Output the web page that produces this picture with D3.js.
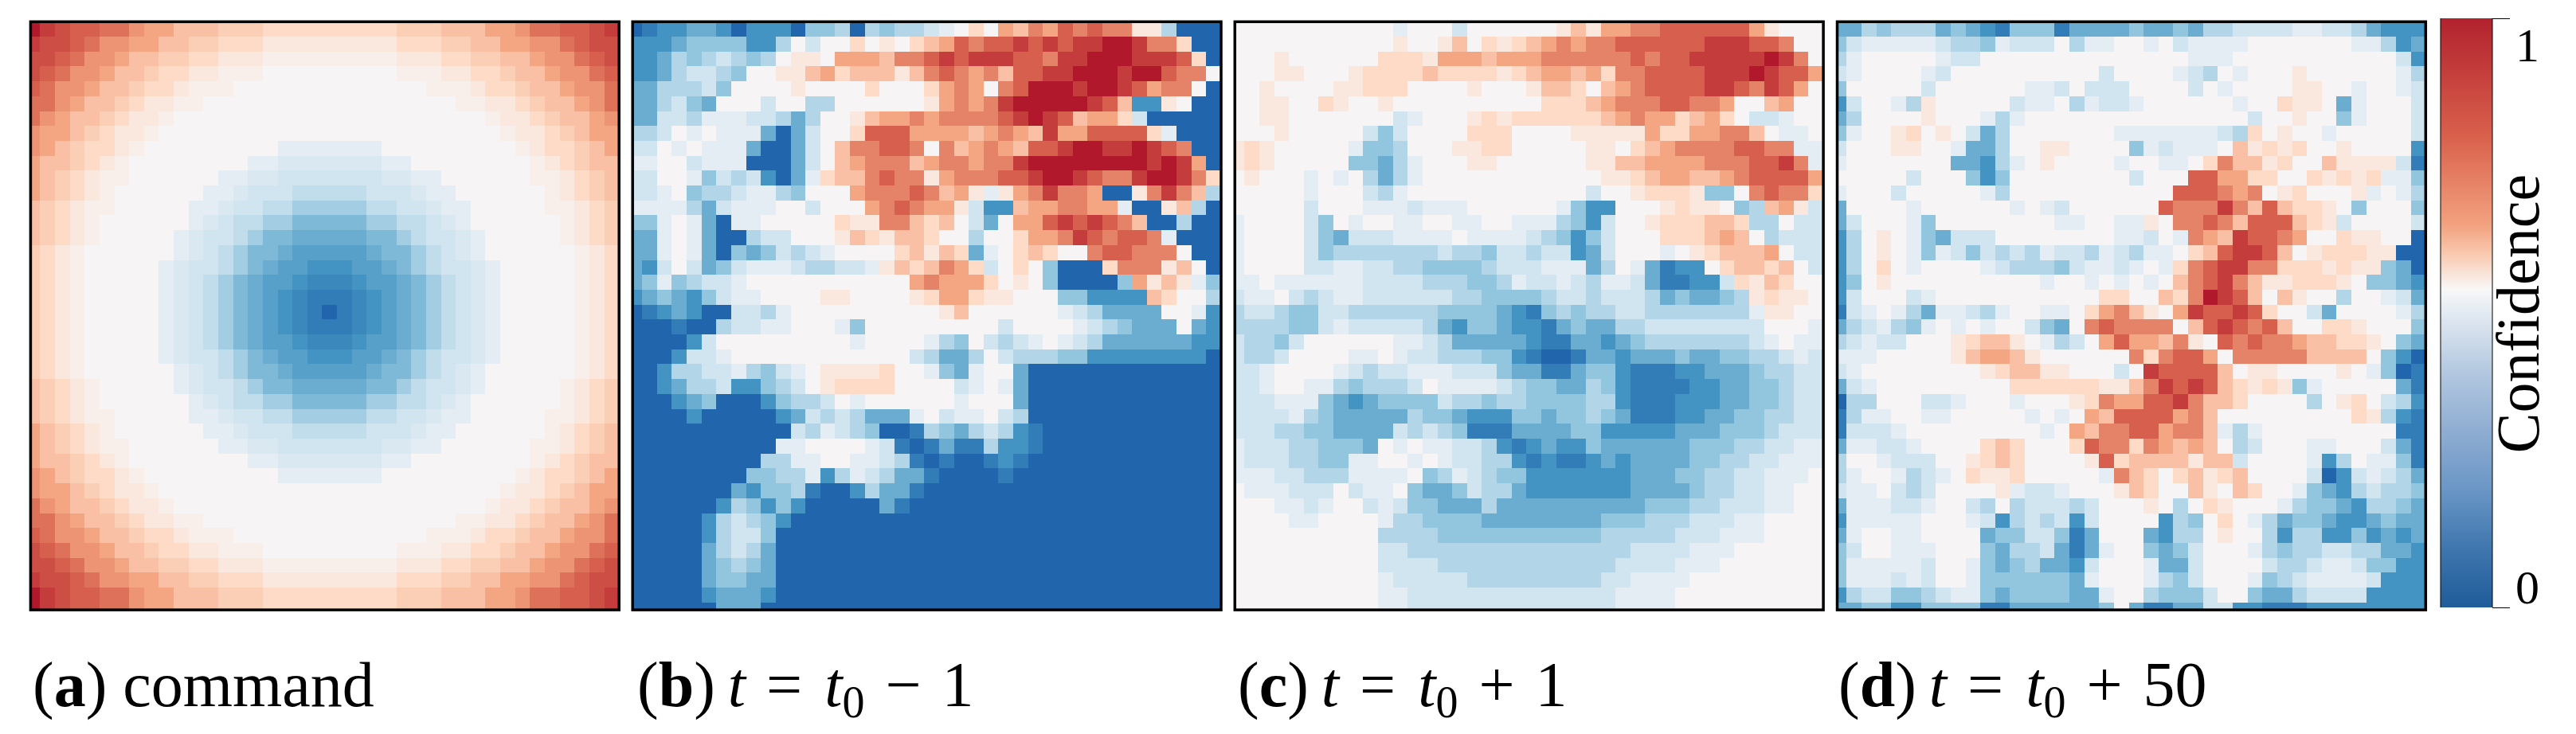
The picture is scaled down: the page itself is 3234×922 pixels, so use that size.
<!DOCTYPE html>
<head>
  <meta charset="utf-8">
  <script src="https://d3js.org/d3.v7.min.js"></script>
  <style>
    body { margin:0; background:#fff; }
    text { font-family:"Liberation Serif",serif; fill:#000; }
  </style>
</head>

<body>
  <script>
    // one string per heatmap row, 40 cells. command is in 1/32nds (base 33), the others in 1/16ths (base 17)
    var commandRows = [
      "wutssrrpoommmlllkkkk k kkkklllmmmooprrsstu",
      "uttsrppoommllkkkiiii i iiiikkkllmmoopprstt",
      "ttsrppommllkkiiihhhh h hhhhiiikkllmmopprst",
      "tsrppommlkkiihhhgggg g gggghhhiikklmmopprs",
      "srppommlkkihhhgggggg g gggggghhhikklmmoppr",
      "rrpommlkiihhgggggggg g gggggggghhiiklmmopr",
      "rpommlkiihgggggggggg g gggggggggghiiklmmop",
      "poomlkiihggggggggggg g ggggggggggghiiklmoo",
      "pomlkkihgggggggggeee e eeeggggggggghikklmo",
      "ommlkihggggggggeeddd d dddeegggggggghiklmm",
      "omlkihhggggggeeddccc c cccddeegggggghhiklm",
      "omlkihggggggeedcccbb b bbcccdeegggggghiklm",
      "mlkihhgggggeedccbb99 9 99bbccdeeggggghhikl",
      "mlkihggggggedcbb9977 7 7799bbcdegggggghikl",
      "mlkihgggggedccb97766 6 66779bccdeggggghikl",
      "lkihggggggedcb977655 5 556779bcdegggggghik",
      "lkihgggggedccb976554 4 455679bccdeggggghik",
      "lkihgggggedcb9765543 3 3455679bcdeggggghik",
      "lkihgggggedcb9765432 2 2345679bcdeggggghik",
      "lkihgggggedcb9765432 0 2345679bcdeggggghik",
      "lkihgggggedcb9765432 2 2345679bcdeggggghik",
      "lkihgggggedcb9765543 3 3455679bcdeggggghik",
      "lkihgggggedccb976554 4 455679bccdeggggghik",
      "lkihggggggedcb977655 5 556779bcdegggggghik",
      "mlkihgggggedccb97766 6 66779bccdeggggghikl",
      "mlkihggggggedcbb9977 7 7799bbcdegggggghikl",
      "mlkihhgggggeedccbb99 9 99bbccdeeggggghhikl",
      "omlkihggggggeedcccbb b bbcccdeegggggghiklm",
      "omlkihhggggggeeddccc c cccddeegggggghhiklm",
      "ommlkihggggggggeeddd d dddeegggggggghiklmm",
      "pomlkkihgggggggggeee e eeeggggggggghikklmo",
      "poomlkiihggggggggggg g ggggggggggghiiklmoo",
      "rpommlkiihgggggggggg g gggggggggghiiklmmop",
      "rrpommlkiihhgggggggg g gggggggghhiiklmmopr",
      "srppommlkkihhhgggggg g gggggghhhikklmmoppr",
      "tsrppommlkkiihhhgggg g gggghhhiikklmmopprs",
      "ttsrppommllkkiiihhhh h hhhhiiikkllmmopprst",
      "uttsrppoommllkkkiiii i iiiikkkllmmoopprstt",
      "wutssrrpoommmlllkkkk k kkkklllmmmooprrsstu",
      "wutssrrpoommmlllkkkk k kkkklllmmmooprrsstu"
    ];
    var beforeRows = [
      "0122332022 2044505455 678a8cbdce dedd995000",
      "2223444422 58688a898a bcedeefefe ffggfdda00",
      "2235456545 8998cccbdd efefffeedf fgggfffea0",
      "2235665488 99bcabbb9b dedcdbeeff gggfggedd8",
      "3355564888 898888a888 acdc8deggg fggfecdd80",
      "3356438886 8855888888 9cdcdfgggg gfeb229800",
      "3366577766 535889bccd cddddefgfe bcca600000",
      "5568787773 03688aeeec cccbcdcbfc ceeeea7000",
      "6687877730 0368bddeed 8dbcdcbeef ggffgfed00",
      "7788677700 0368bcdddb cddcddfggg gggggfgfc0",
      "6688746562 037abbdedd 9cdddeefgg feddfggfda",
      "6678455677 54888cddde dbc979cdfd dc009dfdb5",
      "7777536777 886888cded cc9622bccd dcc7009b50",
      "4478730778 8888a99ddb ab8638ccef efedb00500",
      "3378730056 68889ba9bb a88588accd fedeed7000",
      "3378730434 65678888ab 9ba378aba8 8deeddd800",
      "3268634677 76556679ba bdca68a840 00addd9b80",
      "3474566788 888888888c dccca89840 0004c9b974",
      "2343246778 8889988889 acca998884 42222ba885",
      "0123200665 7888888888 89b8888887 6533338872",
      "0001005667 7888748888 8888868888 7654333832",
      "0000268888 8888878888 7548656787 6533333322",
      "0002667888 8888888886 5335865554 4222222220",
      "0025566754 6789999a88 7437883000 0000000000",
      "0023556224 5689aaaa88 8867873000 0000000000",
      "0002340002 4556878888 8878883000 0000000000",
      "0000200000 2365653337 8677865000 0000000000",
      "0000000000 0657654001 5435652100 0000000000",
      "0000000000 7788887610 1311522100 0000000000",
      "0000000005 5778877651 0100121000 0000000000",
      "0000000044 5572576533 1000010000 0000000000",
      "0000000324 4510025331 0000000000 0000000000",
      "0000002542 4200000310 0000000000 0000000000",
      "0000025654 2000000000 0000000000 0000000000",
      "0000025664 0000000000 0000000000 0000000000",
      "0000035653 0000000000 0000000000 0000000000",
      "0000034543 0000000000 0000000000 0000000000",
      "0000034433 0000000000 0000000000 0000000000",
      "0000023332 0000000000 0000000000 0000000000",
      "0000003330 0000000000 0000000000 0000000000"
    ];
    var afterRows = [
      "8888888888 8788868888 889b9ccdde eeeeec9888",
      "8888888888 89889b8a9a bcdcddeeee eefffeed88",
      "8889888888 aaa9cccbcc cddddddede efffffgfd8",
      "888998889a aaabaaaa9a bccbcaddee eefffgfeec",
      "889888899a aa88889888 9bba8bcdee eeffedfec8",
      "889988a988 9888888888 8aaabcddde eddc88bc88",
      "8899888888 8678889a9a aaaaabcdcc abca866788",
      "8889888886 468888aaa8 88899999ca accddb8778",
      "9a98888874 4588899aa8 8888998abc ddddeedd77",
      "9a98888844 3578889988 888899bbcc ccdddeefd7",
      "8988878785 3578888888 8888899abc cbbcdeeeec",
      "8888878886 5788888888 88886889aa a9448dedda",
      "8888868887 7767778888 8874228889 a99845bc96",
      "7888864878 8778877887 775426889a aabba55866",
      "7888864366 6777787777 654246888a aabcb85666",
      "7888864555 5555655466 5662368887 89abbbc866",
      "7888866776 6554444566 6777358731 228abbab86",
      "7787777776 6665554457 6676577631 1226a9ba88",
      "6778656776 6666655444 4566566653 433459a998",
      "5665446655 5555444432 1454556655 5555579988",
      "5555446766 6665324432 2134335566 6666668887",
      "6554688888 8776533333 2113323455 5555567877",
      "6556888877 8766555442 1001332333 4334455676",
      "6678888765 6677766643 3113442111 2233345566",
      "6678877545 5568777765 4433542111 1223344566",
      "6667774323 4444655455 4444552111 2223344566",
      "6666754333 3354432224 4344543111 2233445566",
      "6665544333 3656541113 3334422222 3334445666",
      "7666554443 8787766521 2322433333 3444556677",
      "7666554477 8878766552 1211232333 3445566777",
      "7776655577 7784576544 2222222333 4455667778",
      "8777666867 7843346553 2222222333 3455667788",
      "8887767886 7644333533 3333333344 4556667788",
      "8888778888 7554444333 3333344455 5666778888",
      "8888888888 5555444444 4444455555 6667778888",
      "8888888888 6655555555 5555555666 6777888888",
      "8888888888 6666555555 5555556666 7778888888",
      "8888888888 7666665555 5555566777 7888888888",
      "8888888888 7766666666 6666667777 8888888888",
      "8888888888 7766666666 6666667777 8888888888"
    ];
    var laterRows = [
      "3354555343 2144413333 4334355666 6776653222",
      "4677777655 4766685778 8786777788 8888877523",
      "5788888766 8888888888 8888777888 8888888862",
      "6788887688 8888888868 8887658788 8988888875",
      "4888886888 8887768666 8888687888 8998878876",
      "2688759888 8867785766 7888888788 a998378886",
      "3588889888 7578888888 8888888868 8988478886",
      "47889a8986 3588888887 77777765a8 9887888886",
      "6888998873 3588998888 4767778b9a 9a88988882",
      "7888888833 2578988887 88778adbb9 a88b999961",
      "8888868884 2488888888 6888eeccaa 88a9a9a774",
      "7888688888 7588888888 888eeedcd8 9a88897875",
      "3888878888 8878768888 88edddfdbe baa9848884",
      "3688874888 8888877887 798ddedbee eba9688886",
      "2589874366 6888888887 7687dcbfee dc88a99880",
      "2589874764 6565766576 5778abeffe b89aaa9900",
      "258a878888 7655546776 787adeffdd aaa9a99430",
      "2489888888 8888788787 878bdefdb9 9aaa984432",
      "2688867888 88888888aa 88badgfeb8 b988588763",
      "1678753776 5788778acd b98cfeefea 8863888875",
      "3567547878 7886438ded ddd8befede b88aa98884",
      "567668889a bb987568ce ccbd98eded dcbbaa9843",
      "777888889b ccb9888888 dadeec8ddd ddbbbb8420",
      "6788888888 9abb998886 8feeeeb899 8888987401",
      "3678888888 88aaaaaa99 bdfefeba9a 9478888831",
      "0558886678 8878889adc ceefdbba88 88589a8652",
      "1577887788 8887878cbe eeecdb8888 88888a9521",
      "1666788888 888878cbdd eecddb7578 8888888811",
      "3776678888 aba888aedd adcbcb8568 8877888631",
      "5887666889 aba88889ea bbbb9bb688 8872587741",
      "578875678a 99a888887d ba8ab9ab88 8860267653",
      "6778656888 8976678889 ba88b98ba8 8743256554",
      "3777667886 5856665688 89858a9888 7544325543",
      "2777778887 6256562688 882548a875 3443223433",
      "3788778888 3446641388 8325589885 2552242323",
      "4688777888 4355631378 8434688875 4556655332",
      "4777776887 4345332688 8733688886 5567764422",
      "4777676887 4444443788 8754688874 5677776222",
      "2566445677 4344443378 8544468843 3566662222",
      "3344224444 1133333348 3113366221 1122222222"
    ];
    var panelRows = [commandRows, beforeRows, afterRows, laterRows];
    var panelBase = [33, 17, 17, 17];
    var panelLeft = [38.4, 794.2, 1550.3, 2306.5];
    var panelLetters = ['a', 'b', 'c', 'd'];
    var captionX = [41, 800, 1554, 2308];
    var captionOp = [null, '\u2212', '+', '+'];
    var captionNum = [null, '1', '1', '50'];

    var cellStops = [0, .125, .25, .375, .5, .625, .75, .875, 1];
    var cellColors = ['#2166ac', '#4393c3', '#92c5de', '#d1e5f0', '#f6f4f5', '#fddbc7', '#f4a582', '#d6604d', '#b2182b'];
    var barStops = [0, .1, .2, .3, .4, .5, .54, .6, .65, .8, 1];
    var barColors = ['#1f5c99', '#3f76ae', '#6a96c6', '#8fadd2', '#b3c8e0', '#e3eaf2', '#f8f8f8', '#f9c9b0', '#f2a17e', '#d9604c', '#b2222e'];
    var barTicks = [0, 1];

    var panelSize = 738.8, panelTop = 27.3;
    var color = d3.scaleLinear().domain(cellStops).range(cellColors);
    var x = d3.scaleLinear().domain([0.36, 40]).range([0, panelSize]);
    var y = d3.scaleLinear().domain([0, 39.5]).range([0, panelSize]);

    var svg = d3.select('body').append('svg')
      .attr('width', 3234)
      .attr('height', 922);
    var defs = svg.append('defs');
    defs.append('clipPath').attr('id', 'panelClip')
      .append('rect').attr('width', panelSize).attr('height', panelSize);

    panelRows.forEach(function(rows, p) {
      var cells = [];
      rows.forEach(function(row, r) {
        row.replace(/ /g, '').split('').forEach(function(ch, c) {
          cells.push({r: r, c: c, v: parseInt(ch, panelBase[p]) / (panelBase[p] - 1)});
        });
      });

      var g = svg.append('g')
        .attr('transform', 'translate(' + panelLeft[p] + ',' + panelTop + ')');

      g.append('g').attr('clip-path', 'url(#panelClip)')
        .selectAll('rect')
        .data(cells)
        .enter().append('rect')
        .attr('x', function(d) { return x(d.c); })
        .attr('y', function(d) { return y(d.r); })
        .attr('width', x(1) - x(0) + 0.6)
        .attr('height', y(1) - y(0) + 0.6)
        .attr('shape-rendering', 'crispEdges')
        .attr('fill', function(d) { return color(d.v); });

      g.append('rect')
        .attr('width', panelSize)
        .attr('height', panelSize)
        .attr('fill', 'none')
        .attr('stroke', '#000')
        .attr('stroke-width', 3.5);

      // caption, letter in bold and the maths in italics
      var t = svg.append('text')
        .attr('x', captionX[p])
        .attr('y', 887)
        .attr('font-size', 80);
      t.append('tspan').text('(');
      t.append('tspan').attr('font-weight', 'bold').text(panelLetters[p]);
      t.append('tspan').text(')');
      if (p == 0) {
        t.append('tspan').attr('dx', 20).text('command');
      } else {
        t.append('tspan').attr('dx', 16).attr('font-style', 'italic').text('t');
        t.append('tspan').attr('dx', 26).text('=');
        t.append('tspan').attr('dx', 28).attr('font-style', 'italic').text('t');
        t.append('tspan').attr('font-size', 56).attr('dy', 14).text('0');
        t.append('tspan').attr('dy', -14).attr('dx', 26).text(captionOp[p]);
        t.append('tspan').attr('dx', 26).text(captionNum[p]);
      }
    });

    // colour bar
    var barLeft = 3064, barRight = 3129, barTop = 23, barBottom = 763;
    var grad = defs.append('linearGradient').attr('id', 'barGrad')
      .attr('x1', 0).attr('x2', 0).attr('y1', 1).attr('y2', 0);
    barStops.forEach(function(s, i) {
      grad.append('stop').attr('offset', s).attr('stop-color', barColors[i]);
    });
    svg.append('rect')
      .attr('x', barLeft).attr('y', barTop)
      .attr('width', barRight - barLeft).attr('height', barBottom - barTop)
      .attr('fill', 'url(#barGrad)');
    svg.append('path')
      .attr('d', 'M' + barLeft + ',' + barBottom + 'V' + barTop + 'M' + barRight + ',' + barTop + 'V' + barBottom)
      .attr('stroke', '#000').attr('stroke-width', 1).attr('fill', 'none');

    var barScale = d3.scaleLinear().domain([0, 1]).range([barBottom, barTop]);
    var axis = svg.append('g')
      .attr('transform', 'translate(' + barRight + ',0)')
      .call(d3.axisRight(barScale).tickValues(barTicks).tickSize(22).tickFormat(d3.format('d')));
    axis.select('.domain').remove();
    axis.selectAll('.tick line').attr('stroke', '#000').attr('stroke-width', 1);
    axis.selectAll('.tick text')
      .attr('font-family', '"Liberation Serif",serif')
      .attr('font-size', 60)
      .attr('fill', '#000')
      .attr('text-anchor', 'middle')
      .attr('x', 44)
      .attr('dy', null)
      .attr('y', function(d) { return d == 1 ? 53 : -6; });

    svg.append('text')
      .attr('transform', 'translate(3187,394) rotate(-90)')
      .attr('text-anchor', 'middle')
      .attr('font-size', 76)
      .text('Confidence');
  </script>
</body>
